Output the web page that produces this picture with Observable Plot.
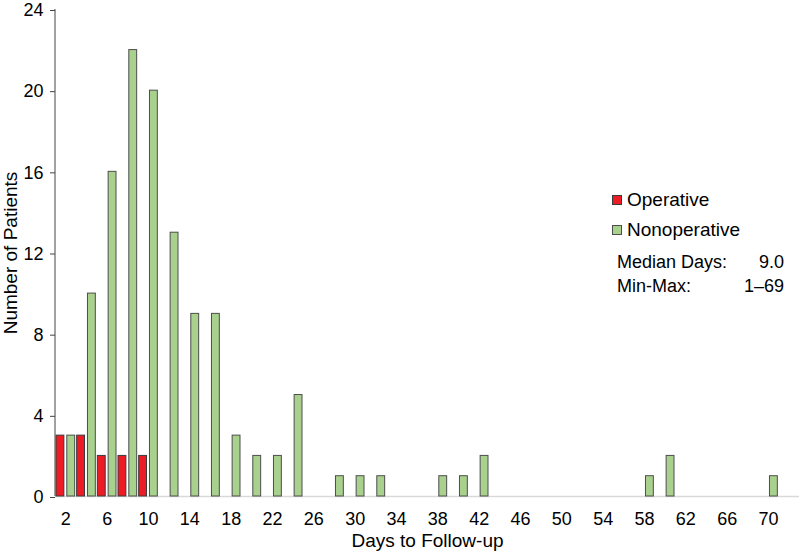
<!DOCTYPE html>
<html>
<head>
<meta charset="utf-8">
<script src="https://cdn.jsdelivr.net/npm/d3@7"></script>
<script src="https://cdn.jsdelivr.net/npm/@observablehq/plot@0.6"></script>
<style>
  html, body { margin: 0; padding: 0; background: #fff; }
  #chart { position: relative; width: 800px; height: 552px; }
  svg { font-family: "Liberation Sans", Arial, sans-serif; }
</style>
</head>
<body>
<div id="chart"></div>
<script>
// Two-day bins of days to follow-up
const days = [2,4,6,8,10,12,14,16,18,20,22,24,26,28,30,32,34,36,38,40,42,44,46,48,50,52,54,56,58,60,62,64,66,68,70,72];
const operative = [3,3,2,2,2,0,0,0,0,0,0,0,0,0,0,0,0,0,0,0,0,0,0,0,0,0,0,0,0,0,0,0,0,0,0,0];
const nonoperative = [3,10,16,22,20,13,9,9,3,2,2,5,0,1,1,1,0,0,1,1,2,0,0,0,0,0,0,0,1,2,0,0,0,0,1,0];
const xTickLabels = [2,6,10,14,18,22,26,30,34,38,42,46,50,54,58,62,66,70];
const yTicks = [0,4,8,12,16,20,24];
const seriesNames = ["Operative", "Nonoperative"];
const seriesColors = ["#ed1c24", "#a9d18e"];
const stats = [["Median Days:", "9.0"], ["Min-Max:", "1\u201369"]];

const opData = days.map((d, i) => ({day: d, value: operative[i]})).filter(d => d.value > 0);
const nonData = days.map((d, i) => ({day: d, value: nonoperative[i]})).filter(d => d.value > 0);

const chart = Plot.plot({
  width: 800,
  height: 552,
  marginLeft: 55,
  marginRight: 1,
  marginTop: 9,
  marginBottom: 56,
  style: {fontFamily: "'Liberation Sans', Arial, sans-serif", fontSize: "18px", color: "#000", background: "#fff"},
  x: {type: "band", domain: days, padding: 0, round: false},
  y: {domain: [0, 24]},
  marks: [
    Plot.ruleY([0], {stroke: "#d9d9d9", strokeWidth: 1.5}),
    Plot.barY(opData, {x: "day", y: "value", fill: seriesColors[0], stroke: "#3a3a3a", strokeWidth: 1, insetLeft: 1, insetRight: 11.8}),
    Plot.barY(nonData, {x: "day", y: "value", fill: seriesColors[1], stroke: "#4d4d4d", strokeWidth: 1, insetLeft: 11.8, insetRight: 1}),
    Plot.axisX({tickSize: 0, tickPadding: 16, tickFormat: d => xTickLabels.includes(d) ? String(d) : "", fontSize: 18,
      label: null}),
    Plot.axisX({tickSize: 0, tickFormat: () => "", fontSize: 19,
      label: "Days to Follow-up", labelAnchor: "center", labelOffset: 50, labelArrow: "none"}),
    Plot.axisY({ticks: yTicks, tickSize: 5, tickPadding: 7, stroke: "#444", fontSize: 18, dy: 1,
      label: null}),
    Plot.axisY({ticks: [], tickSize: 0, fontSize: 19,
      label: "Number of Patients", labelAnchor: "center", labelOffset: 52, labelArrow: "none"})
  ]
});
document.getElementById("chart").appendChild(chart);

const svg = d3.select(chart);
// y axis line drawn from the plot's own scales
const xs = chart.scale("x"), ys = chart.scale("y");
const yTop = ys.apply(24), yBot = ys.apply(0);
svg.append("line").attr("x1", xs.range[0]).attr("x2", xs.range[0]).attr("y1", yTop).attr("y2", yBot)
  .attr("stroke", "#444").attr("stroke-width", 1);

// Legend and summary statistics
const g = svg.append("g").attr("font-family", "'Liberation Sans', Arial, sans-serif").attr("font-size", 19)
  .attr("fill", "#000").attr("text-anchor", "start");
seriesNames.forEach((name, i) => {
  const y0 = 195 + i * 30;
  g.append("rect").attr("x", 612.5).attr("y", y0 + 0.5).attr("width", 9).attr("height", 9)
    .attr("fill", seriesColors[i]).attr("stroke", i === 0 ? "#3a3a3a" : "#4d4d4d");
  g.append("text").attr("x", 627).attr("y", y0 + 11).attr("text-anchor", "start").text(name);
});
stats.forEach(([k, v], i) => {
  const yb = 268 + i * 24;
  g.append("text").attr("x", 617).attr("y", yb).attr("font-size", 18).attr("text-anchor", "start").text(k);
  g.append("text").attr("x", 784).attr("y", yb).attr("font-size", 18).attr("text-anchor", "end").text(v);
});
</script>
</body>
</html>
